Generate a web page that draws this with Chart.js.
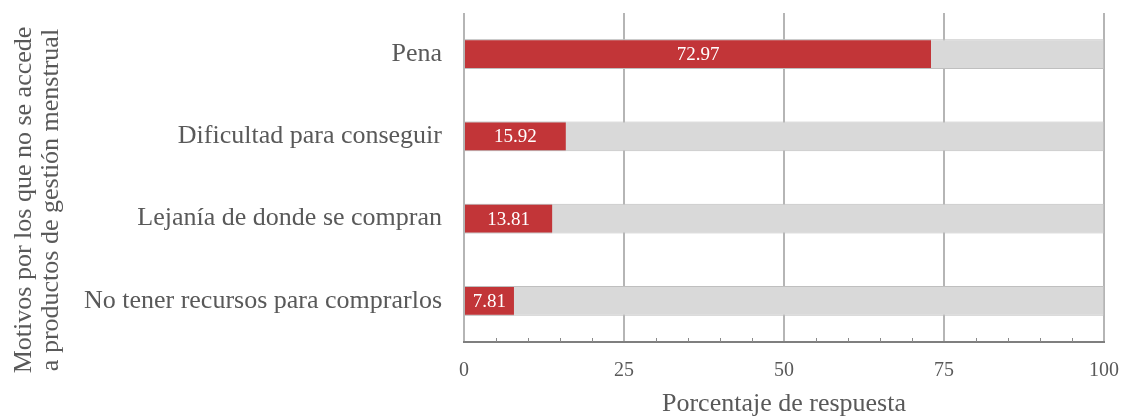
<!DOCTYPE html>
<html>
<head>
<meta charset="utf-8">
<script src="https://cdn.jsdelivr.net/npm/chart.js@4.4.1/dist/chart.umd.min.js"></script>
<style>
  html, body { margin: 0; padding: 0; background: #ffffff; }
  #wrap { width: 1123px; height: 417px; position: relative; }
</style>
</head>
<body>
<div id="wrap"><canvas id="c" width="1123" height="417"></canvas></div>
<script>
const categories = [
  "Pena",
  "Dificultad para conseguir",
  "Lejanía de donde se compran",
  "No tener recursos para comprarlos"
];
const percentValues = [72.97, 15.92, 13.81, 7.81];
const totalValues = [100, 100, 100, 100];
const xTickValues = [0, 25, 50, 75, 100];
const minorTickValues = [5, 10, 15, 20, 30, 35, 40, 45, 55, 60, 65, 70, 80, 85, 90, 95];
const yTitleLines = ["Motivos por los que no se accede", "a productos de gestión menstrual"];
const xTitle = "Porcentaje de respuesta";

const SERIF = "'Liberation Serif', 'Times New Roman', serif";
const TEXT = "#595959";

const valueLabels = {
  id: "valueLabels",
  afterDatasetsDraw(chart) {
    const ctx = chart.ctx;
    const meta = chart.getDatasetMeta(0);
    ctx.save();
    ctx.fillStyle = "#ffffff";
    ctx.font = "19px " + SERIF;
    ctx.textAlign = "center";
    ctx.textBaseline = "middle";
    meta.data.forEach((bar, i) => {
      const cx = (bar.x + bar.base) / 2;
      ctx.fillText(percentValues[i].toFixed(2), cx, bar.y + 1);
    });
    ctx.restore();
  }
};

const minorTicks = {
  id: "minorTicks",
  afterDraw(chart) {
    const ctx = chart.ctx;
    const xs = chart.scales.x;
    const bottom = chart.chartArea.bottom;
    ctx.save();
    ctx.strokeStyle = "#8a8a8a";
    ctx.lineWidth = 1;
    minorTickValues.forEach(v => {
      const px = Math.round(xs.getPixelForValue(v)) + 0.5;
      ctx.beginPath();
      ctx.moveTo(px, bottom);
      ctx.lineTo(px, bottom - 4);
      ctx.stroke();
    });
    ctx.restore();
  }
};

const yTitle = {
  id: "yTitle",
  afterDraw(chart) {
    const ctx = chart.ctx;
    ctx.save();
    ctx.fillStyle = TEXT;
    ctx.font = "26px " + SERIF;
    ctx.textAlign = "center";
    ctx.textBaseline = "alphabetic";
    const cy = 200;
    const baselines = [31, 58];
    yTitleLines.forEach((t, i) => {
      ctx.save();
      ctx.translate(baselines[i], cy);
      ctx.rotate(-Math.PI / 2);
      ctx.fillText(t, 0, 0);
      ctx.restore();
    });
    ctx.restore();
  }
};

new Chart(document.getElementById("c"), {
  type: "bar",
  data: {
    labels: categories,
    datasets: [
      {
        data: percentValues,
        backgroundColor: "#c23538",
        borderColor: "#bfbfbf",
        borderWidth: { top: 1, bottom: 1, left: 0, right: 0 },
        borderSkipped: false,
        grouped: false,
        barPercentage: 0.36,
        categoryPercentage: 1.0
      },
      {
        data: totalValues,
        backgroundColor: "#d9d9d9",
        borderColor: "#bfbfbf",
        borderWidth: 1,
        borderSkipped: false,
        grouped: false,
        barPercentage: 0.36,
        categoryPercentage: 1.0
      }
    ]
  },
  options: {
    indexAxis: "y",
    responsive: false,
    animation: false,
    events: [],
    layout: { padding: { top: 13, right: 19, bottom: 0, left: 0 } },
    plugins: {
      legend: { display: false },
      tooltip: { enabled: false }
    },
    scales: {
      x: {
        min: 0,
        max: 100,
        afterBuildTicks(scale) {
          scale.ticks = xTickValues.map(v => ({ value: v }));
        },
        afterFit(scale) {
          scale.height = 75;
          scale.paddingLeft = 0;
          scale.paddingRight = 0;
        },
        grid: {
          color: "#b5b5b5",
          lineWidth: 2,
          drawTicks: false
        },
        border: { display: true, color: "#7f7f7f", width: 2 },
        ticks: {
          color: TEXT,
          font: { family: SERIF, size: 20 },
          padding: 17,
          maxRotation: 0
        },
        title: {
          display: true,
          text: xTitle,
          color: TEXT,
          font: { family: SERIF, size: 26, lineHeight: 1.0 },
          padding: { top: 0, bottom: 0 }
        }
      },
      y: {
        afterFit(scale) {
          scale.width = 464;
          scale.paddingTop = 0;
          scale.paddingBottom = 0;
        },
        grid: { display: false, drawTicks: false },
        border: { display: false },
        ticks: {
          color: TEXT,
          font: { family: SERIF, size: 26 },
          padding: 22
        }
      }
    }
  },
  plugins: [valueLabels, minorTicks, yTitle]
});
</script>
</body>
</html>
